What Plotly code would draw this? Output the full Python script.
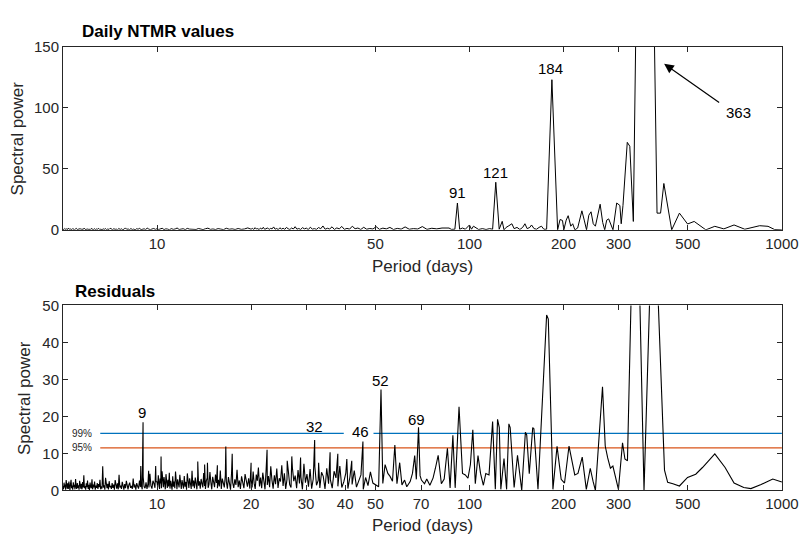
import numpy as np
import plotly.graph_objects as go

# ---------------- data ----------------
# Top panel: daily NTMR periodogram
top_noise_a = [0.6,0.2,1.1,0.4,0.9,0.1,1.3,0.5,0.3,0.8,0.2,1.0,0.6,0.1,0.7,1.2,0.3,0.5,0.1,0.9,
 0.4,0.7,0.2,1.4,0.5,0.2,0.8,0.3,0.6,0.1,1.1,0.4,0.2,0.9,0.3,0.7,0.5,1.2,0.2,0.6,
 0.1,0.8,0.4,1.0,0.2,0.7,0.3,1.3,0.5,0.2,0.9,0.4,0.6,0.1,1.1,0.3,0.8,0.2,0.5,1.6,
 0.4,0.7,0.2,1.0,0.3,0.6,0.1,0.9,0.5,1.2,0.2,0.4,0.8,0.3,1.4,0.6,0.2,0.7,1.1,0.4,
 0.9,0.3,0.5,1.3,0.2,0.8,0.6,0.1,1.0,0.4,0.7,1.5,0.3,0.5,0.9,0.2,1.2,0.6,0.4,0.8,
 0.3,1.1,0.5,0.2,0.9,1.4,0.4,0.7,0.3,1.0,0.6,0.2,1.3,0.5,0.8,0.3,1.1,0.4,0.7,1.6]
top_noise_a_range = (5, 20)       # periods (days) covered, uniform in frequency
top_noise_b = [0.5,1.2,0.3,1.8,0.7,1.0,0.2,1.5,0.6,2.1,
 0.4,0.9,1.6,0.3,1.2,0.8,2.4,0.5,1.1,0.2,
 1.7,0.6,1.3,0.4,2.0,0.9,0.3,1.5,0.7,2.6,
 0.5,1.1,0.3,1.8,0.8,1.4,0.2,2.2,0.6,1.0,
 0.4,1.9,0.9,3.2,0.5,1.3,0.7,2.5,0.3,1.6,
 0.8,2.8,0.4,1.2,0.6,3.0,0.9,1.5,0.3,2.1,
 0.5,1.1,0.7,2.6,0.4,1.4,0.8,2.0,0.3,1.2,
 0.6,2.4,0.5,1.0,0.7,2.7,0.4,1.3,0.8,1.5]
top_noise_b_range = (20, 85)
top_period = [86,87.5,89.8,91.5,93,95,97,100,101.5,103,105,107,110,113,116,118.6,121.4,124.5,126,127.3,
 129,131,133,136.7,139,142,145,148,150.5,153,156,158,161,164,167,170,173,176.6,183.6,191.5,
 195,198.5,200.5,204,207,211,214,217.5,222,229,233,237,241,245,249,253,262,267,271,275,
 279,284,288,296,303,306,310,320,326,334.6,363,398.5,409,419,444,470,499,524,571,610,
 652,703,761,849,903,947,1000]
top_power = [1.5,0.4,0.5,22,0.5,1.5,0.5,4,0.5,3,1.5,0.3,1,0.3,1,0.5,39,0.5,4,7,
 0,2,3,5,1,2,0.3,2,5,1,2,4,1,0.5,2,3,0.5,0.5,123,0,
 8.5,7.7,0,8,11.6,3,5,0,1.5,15.6,8,0,12,14.8,5,3,21,6,0,8,
 9,3,0,22,20,5,20,71.7,68.5,6.9,700,13.7,13.7,38,0,13.7,4.8,6.9,0,2.9,
 0.8,4,0.5,3.4,2.9,0.3,0]

# Bottom panel: residual periodogram
res_noise_1 = [1.2,0.3,2.1,0.8,1.6,0.2,2.8,1.1,0.5,1.9,0.4,2.4,1.0,0.1,1.7,2.9,0.6,1.3,0.2,2.2,
 0.9,1.5,0.3,3.1,1.0,0.4,2.0,0.7,1.4,0.2,2.6,1.1,0.5,1.8,0.3,2.3,0.8,4.1,0.6,1.2,
 0.2,1.9,0.9,2.7,0.4,1.5,0.1,2.1,1.0,0.6,3.0,0.3,1.6,0.8,2.4,0.2,1.3,0.7,2.0,0.4,
 1.7,0.9,2.9,0.3,1.1,0.5,2.2,0.8,1.4,0.2,3.4,1.0,0.6,1.8,0.3,2.5,0.9,1.2,0.4,2.0,
 0.7,1.6,0.2,2.8,1.1,0.5,1.9,0.3,4.2,0.8,1.3,0.4,2.3,0.9,0.2,1.7,0.6,2.6,1.0,0.3,
 1.5,2.1,0.7,1.2,0.4,3.2,0.8,1.6,0.2,2.0,1.1,0.5,2.7,0.9,1.4,0.3,3.6,1.0,0.6,2.2,
 0.4,1.8,0.8,4.5,1.3,0.5,2.6,1.9,0.7,2.4]
res_noise_1_range = (5, 10)
res_noise_2 = [2.3,0.8,4.1,1.5,0.4,3.2,1.9,0.6,5.2,2.0,
 0.9,3.6,1.3,0.3,4.4,2.2,0.7,2.9,1.1,4.8,
 0.5,2.6,1.6,0.2,3.8,1.0,2.4,0.6,5.1,1.4,
 0.3,3.0,2.0,0.8,4.2,1.2,0.4,2.8,1.7,0.5,
 3.9,1.0,2.3,0.2,4.6,1.5,0.7,3.3,2.1,0.4,
 5.3,1.1,2.7,0.6,3.5,1.8,0.3,4.0,1.3,2.5,
 0.5,3.1,1.9,0.8,4.7,1.2,0.4,2.6,3.4,0.7,
 1.6,5.0,2.2,0.3,3.7,1.4,0.9,4.3,2.0,0.6,
 2.9,1.1,5.4,0.4,3.2,1.7,0.8,4.1,2.4,0.5,
 3.6,1.3,0.2,4.9,2.1,0.7,3.0,1.5,5.6,0.9,
 2.7,0.4,3.8,1.8,0.6,4.4,2.3,1.0,3.3,0.5]
res_noise_2_range = (10, 20)
res_noise_3 = [3.2,0.8,5.1,1.9,0.4,4.3,2.6,6.2,1.1,3.5,
 0.6,4.8,2.2,0.3,5.7,1.5,3.9,0.9,6.5,2.8,
 0.5,4.1,1.7,5.9,0.7,3.3,2.4,6.8,1.2,4.6,
 0.4,3.0,5.3,1.6,0.8,6.1,2.5,4.0,0.6,5.5,
 1.9,3.6,0.3,7.2,2.1,4.4,1.0,5.8,0.5,3.1,
 6.4,1.4,2.7,0.7,4.9,3.8,0.4,6.0,1.8,2.9,
 0.6,5.2,3.4,1.1,6.6,0.8,2.3,4.7,0.5,3.7,
 1.6,5.4,0.9,2.6,4.2,0.3,3.5,1.3,5.0,2.0]
res_noise_3_range = (20, 50)
res_spike_period = [6.7, 8.87, 9.02, 9.4, 9.9, 10.3, 13.5, 14.2, 14.5, 15.6, 16.6, 17.4, 20.0,
 22.5, 26.1, 27.0, 28.8, 31.95, 32.9, 35.8, 37.9, 40.5, 42.0, 45.6]
res_spike_power = [6.5, 6.6, 18.4, 5.3, 6.6, 9.2, 7.8, 7.0, 7.5, 6.8, 11.9, 9.9, 7.5,
 11.0, 8.0, 9.2, 8.9, 13.6, 7.5, 10.3, 9.9, 8.5, 8.0, 13.2]
res_period = [51.2,52.1,52.8,53.7,54.8,55.7,56.7,57.7,58.6,59.8,60.8,62,63,64.6,65.7,66.8,67.6,68.7,69.5,70.2,
 71.8,73,74.7,76.5,77.8,79.4,81.3,83,85,86.7,88.5,90,92.6,95,97,98.9,100.7,102.5,104.4,106.5,
 108.5,110.8,112.8,115.5,118.6,121,123,124.6,126,129,131.5,133.7,135,139,142.5,147,151,152.5,155.4,159.4,
 160.8,165.7,176.6,178.8,185,190.7,196.6,201.5,208.3,217.3,222.5,229.6,236.6,243.6,248.6,253,266.6,272,277,282.6,
 287.8,299.8,309,314.5,320.4,340,362,388,421,431,448,470,499,530,557,610,658,703,755,796,
 858,935,1000]
res_power = [1,27.3,1.9,7,4.6,3.8,2.5,12.3,1.8,7.5,1.5,2.8,1,2.4,4.6,9.4,3,17.1,4,2.8,
 1.8,3.1,1.4,3.4,6,9.5,1.8,3.1,11.4,0.7,14.9,0.7,22.6,4.6,4.2,3.3,7,16.4,1.8,9.4,
 4.6,1.4,4.6,4.2,18.6,0.3,19.2,17,0.3,8.6,0.3,18,17,0.8,9.5,0,15.7,15,4.5,17,
 16.7,0.3,47.4,46.3,0.3,11.9,3,2,12,4.2,4.6,9,0.3,6,2.5,0,28,12,8.8,6,
 6.6,0.3,12.9,8.5,8,105,0,86,5.5,2.2,1.8,1.2,3.5,4.4,6.2,9.9,6.2,2,0.8,0.5,
 1.6,3.1,2.3]

sig_levels = [15.4, 11.5]            # 99 %, 95 %
sig_labels = ["99%", "95%"]
sig_start = 6.58                     # period where threshold lines begin
sig99_gap = (39.6, 49.3)             # gap in 99 % line around the "46" label

top_labels = [("91", 91.6, 30.2), ("121", 121.4, 46.6), ("184", 181.8, 132)]
res_labels = [("9", 8.96, 21.0), ("32", 31.97, 17.3), ("46", 44.9, 15.8),
              ("52", 51.97, 29.8), ("69", 67.6, 19.3)]

top_xticks = [10, 50, 100, 200, 300, 500, 1000]
res_xticks = [10, 20, 30, 40, 50, 70, 100, 200, 300, 500, 1000]


# ---------------- helpers ----------------
def grid(vals, prange):
    f = np.linspace(1 / prange[0], 1 / prange[1], len(vals), endpoint=False)
    return list(1 / f), list(vals)


def merge(*pairs):
    p, v = [], []
    for a, b in pairs:
        p += list(a)
        v += list(b)
    order = np.argsort(p)
    return np.array(p)[order], np.array(v)[order]


top_x, top_y = merge(grid(top_noise_a, top_noise_a_range),
                     grid(top_noise_b, top_noise_b_range),
                     (top_period, top_power))
res_x, res_y = merge(grid(res_noise_1, res_noise_1_range),
                     grid(res_noise_2, res_noise_2_range),
                     grid(res_noise_3, res_noise_3_range),
                     (res_spike_period, res_spike_power),
                     (res_period, res_power))

# ---------------- figure ----------------
W, H = 799, 543
ML, MR = 63, 15
FONT = "Liberation Sans, Arial, Helvetica, sans-serif"
AX = "#262626"
BLUE, ORANGE = "#0072BD", "#D95319"
XRANGE = [np.log10(5), 3.0004]


def py(px):
    return 1 - px / H


fig = go.Figure()

# thresholds (bottom)
fig.add_trace(go.Scatter(x=[sig_start, sig99_gap[0], None, sig99_gap[1], 1000],
                         y=[sig_levels[0]] * 2 + [None] + [sig_levels[0]] * 2,
                         mode="lines", line=dict(color=BLUE, width=1.3),
                         xaxis="x2", yaxis="y2", showlegend=False, hoverinfo="skip"))
fig.add_trace(go.Scatter(x=[sig_start, 1000], y=[sig_levels[1]] * 2,
                         mode="lines", line=dict(color=ORANGE, width=1.3),
                         xaxis="x2", yaxis="y2", showlegend=False, hoverinfo="skip"))

fig.add_trace(go.Scatter(x=top_x, y=top_y, mode="lines",
                         line=dict(color="black", width=1),
                         xaxis="x", yaxis="y", showlegend=False))
fig.add_trace(go.Scatter(x=res_x, y=res_y, mode="lines",
                         line=dict(color="black", width=1.1),
                         xaxis="x2", yaxis="y2", showlegend=False))

axis_common = dict(type="log", range=XRANGE, showline=True, linecolor=AX,
                   linewidth=1, mirror="ticks", ticks="inside", ticklen=5, tickcolor=AX,
                   showgrid=False, zeroline=False, ticklabeloverflow="allow",
                   tickfont=dict(size=15, color=AX, family=FONT))
yaxis_common = dict(showline=True, linecolor=AX, linewidth=1, mirror="ticks",
                    ticks="inside", ticklen=5, tickcolor=AX, showgrid=False, zeroline=False,
                    tickfont=dict(size=15, color=AX, family=FONT))

fig.update_layout(
    width=W, height=H,
    margin=dict(l=ML, r=MR, t=0, b=0),
    paper_bgcolor="white", plot_bgcolor="white",
    font=dict(family=FONT, color=AX),
    xaxis=dict(axis_common, domain=[0, 1], anchor="y",
               tickvals=top_xticks, ticktext=[str(t) for t in top_xticks]),
    yaxis=dict(yaxis_common, domain=[py(228), py(39)], anchor="x",
               range=[0, 150], tickvals=[0, 50, 100, 150]),
    xaxis2=dict(axis_common, domain=[0, 1], anchor="y2",
                tickvals=res_xticks, ticktext=[str(t) for t in res_xticks]),
    yaxis2=dict(yaxis_common, domain=[py(497), py(306)], anchor="x2",
                range=[0, 50], tickvals=[0, 10, 20, 30, 40, 50]),
)

ann = []
# titles
ann.append(dict(text="<b>Daily NTMR values</b>", xref="paper", yref="paper",
                x=(80 - ML) / (W - ML - MR), y=py(23), xanchor="left", yanchor="middle",
                showarrow=False, font=dict(size=17, color="black", family=FONT)))
ann.append(dict(text="<b>Residuals</b>", xref="paper", yref="paper",
                x=(73 - ML) / (W - ML - MR), y=py(292), xanchor="left", yanchor="middle",
                showarrow=False, font=dict(size=17, color="black", family=FONT)))
# axis titles
for yy in (266, 533):
    ann.append(dict(text="Period (days)", xref="paper", yref="paper", x=0.5, y=py(yy),
                    xanchor="center", yanchor="middle", showarrow=False,
                    font=dict(size=17, color=AX, family=FONT)))
for xx, yy in ((17, 133.5), (25, 401.5)):
    ann.append(dict(text="Spectral power", xref="paper", yref="paper",
                    x=(xx - ML) / (W - ML - MR), y=py(yy), textangle=-90,
                    xanchor="center", yanchor="middle", showarrow=False,
                    font=dict(size=17, color=AX, family=FONT)))
# peak labels
for t, px_, pw in top_labels:
    ann.append(dict(text=t, xref="x", yref="y", x=np.log10(px_), y=pw, showarrow=False,
                    xanchor="center", yanchor="middle",
                    font=dict(size=15, color="black", family=FONT)))
for t, px_, pw in res_labels:
    ann.append(dict(text=t, xref="x2", yref="y2", x=np.log10(px_), y=pw, showarrow=False,
                    xanchor="center", yanchor="middle",
                    font=dict(size=15, color="black", family=FONT)))
# 363 arrow + label
ann.append(dict(text="", xref="x", yref="y", axref="x", ayref="y",
                x=np.log10(419.9), y=136, ax=np.log10(636.8), ay=103.4,
                showarrow=True, arrowhead=2, arrowsize=1.6, arrowwidth=1.2, arrowcolor="black"))
ann.append(dict(text="363", xref="x", yref="y", x=np.log10(728.9), y=95.8, showarrow=False,
                xanchor="center", yanchor="middle", font=dict(size=15, color="black", family=FONT)))
# significance labels
for lab, lev in zip(sig_labels, sig_levels):
    ann.append(dict(text=lab, xref="x2", yref="y2", x=np.log10(5.76), y=lev, showarrow=False,
                    xanchor="center", yanchor="middle", font=dict(size=10, color=AX, family=FONT)))

fig.update_layout(annotations=ann)
fig.write_html("out.html")
